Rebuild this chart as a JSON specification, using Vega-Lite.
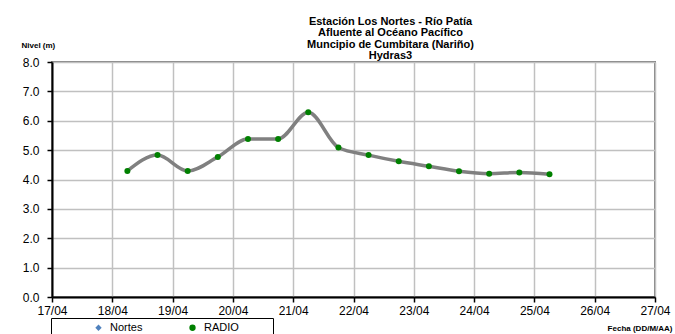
{
  "$schema": "https://vega.github.io/schema/vega-lite/v6.json",
  "autosize": {"type": "none"},
  "width": 603,
  "height": 235,
  "padding": {"left": 52, "top": 62, "right": 20, "bottom": 37},
  "background": "white",
  "title": {
    "text": ["Estación Los Nortes  - Río Patía", "Afluente al Océano Pacífico", "Muncipio de Cumbitara (Nariño)", "Hydras3"],
    "font": "Liberation Sans",
    "fontSize": 11,
    "fontWeight": "bold",
    "lineHeight": 11.5,
    "anchor": "middle",
    "dx": 37,
    "dy": 24,
    "offset": 4,
    "color": "black"
  },
  "data": {
    "values": [
      {"fecha": "2014-04-18T06:00:00", "nivel": 4.29, "serie": "RADIO"},
      {"fecha": "2014-04-18T18:00:00", "nivel": 4.83, "serie": "RADIO"},
      {"fecha": "2014-04-19T06:00:00", "nivel": 4.29, "serie": "RADIO"},
      {"fecha": "2014-04-19T18:00:00", "nivel": 4.77, "serie": "RADIO"},
      {"fecha": "2014-04-20T06:00:00", "nivel": 5.38, "serie": "RADIO"},
      {"fecha": "2014-04-20T18:00:00", "nivel": 5.38, "serie": "RADIO"},
      {"fecha": "2014-04-21T06:00:00", "nivel": 6.29, "serie": "RADIO"},
      {"fecha": "2014-04-21T18:00:00", "nivel": 5.09, "serie": "RADIO"},
      {"fecha": "2014-04-22T06:00:00", "nivel": 4.83, "serie": "RADIO"},
      {"fecha": "2014-04-22T18:00:00", "nivel": 4.62, "serie": "RADIO"},
      {"fecha": "2014-04-23T06:00:00", "nivel": 4.45, "serie": "RADIO"},
      {"fecha": "2014-04-23T18:00:00", "nivel": 4.28, "serie": "RADIO"},
      {"fecha": "2014-04-24T06:00:00", "nivel": 4.2, "serie": "RADIO"},
      {"fecha": "2014-04-24T18:00:00", "nivel": 4.24, "serie": "RADIO"},
      {"fecha": "2014-04-25T06:00:00", "nivel": 4.18, "serie": "RADIO"}
    ]
  },
  "encoding": {
    "x": {
      "field": "fecha",
      "type": "temporal",
      "scale": {"domain": [{"year": 2014, "month": 4, "date": 17}, {"year": 2014, "month": 4, "date": 27}], "nice": false},
      "axis": {
        "title": "Fecha (DD/M/AA)",
        "format": "%d/%m",
        "tickCount": {"interval": "day", "step": 1},
        "labelFontSize": 12,
        "labelPadding": 3,
        "labelFlush": false,
        "labelOverlap": false,
        "titleFontSize": 8,
        "titleFontWeight": "bold",
        "titleAnchor": "end",
        "titleAlign": "right",
        "titleBaseline": "middle",
        "titleX": 620,
        "titleY": 31
      }
    },
    "y": {
      "field": "nivel",
      "type": "quantitative",
      "scale": {"domain": [0, 8], "nice": false},
      "axis": {
        "title": "Nivel (m)",
        "format": ".1f",
        "values": [0, 1, 2, 3, 4, 5, 6, 7, 8],
        "labelOverlap": false,
        "labelFontSize": 12,
        "labelPadding": 8,
        "titleFontSize": 8,
        "titleFontWeight": "bold",
        "titleAngle": 0,
        "titleAlign": "left",
        "titleBaseline": "middle",
        "titleX": -31,
        "titleY": -17
      }
    }
  },
  "layer": [
    {
      "mark": {"type": "line", "interpolate": "monotone", "stroke": "#808080", "strokeWidth": 3.5},
      "encoding": {}
    },
    {
      "mark": {"type": "point", "filled": true, "opacity": 1, "size": 36},
      "encoding": {
        "color": {
          "field": "serie",
          "type": "nominal",
          "scale": {"domain": ["Nortes", "RADIO"], "range": ["#4f81bd", "#008000"]},
          "legend": {
            "title": "\u00a0",
            "titleOrient": "right",
            "titlePadding": 30,
            "orient": "none",
            "legendX": -1,
            "legendY": 256,
            "direction": "horizontal",
            "strokeColor": "black",
            "fillColor": "white",
            "padding": 4,
            "symbolOffset": 38,
            "labelOffset": 6,
            "columnPadding": 6,
            "labelFontSize": 11,
            "symbolSize": 40
          }
        },
        "shape": {
          "field": "serie",
          "type": "nominal",
          "scale": {"domain": ["Nortes", "RADIO"], "range": ["diamond", "circle"]},
          "legend": null
        }
      }
    }
  ],
  "config": {
    "font": "Liberation Sans",
    "view": {"stroke": "#808080", "strokeWidth": 2},
    "axis": {
      "labelColor": "black",
      "titleColor": "black",
      "labelFont": "Liberation Sans",
      "titleFont": "Liberation Sans",
      "domainColor": "black",
      "domainWidth": 2,
      "tickColor": "black",
      "tickWidth": 1.5,
      "tickSize": 5,
      "gridColor": "#c0c0c0",
      "gridWidth": 1.5,
      "gridOpacity": 1
    },
    "legend": {"labelFont": "Liberation Sans", "labelColor": "black"}
  }
}
